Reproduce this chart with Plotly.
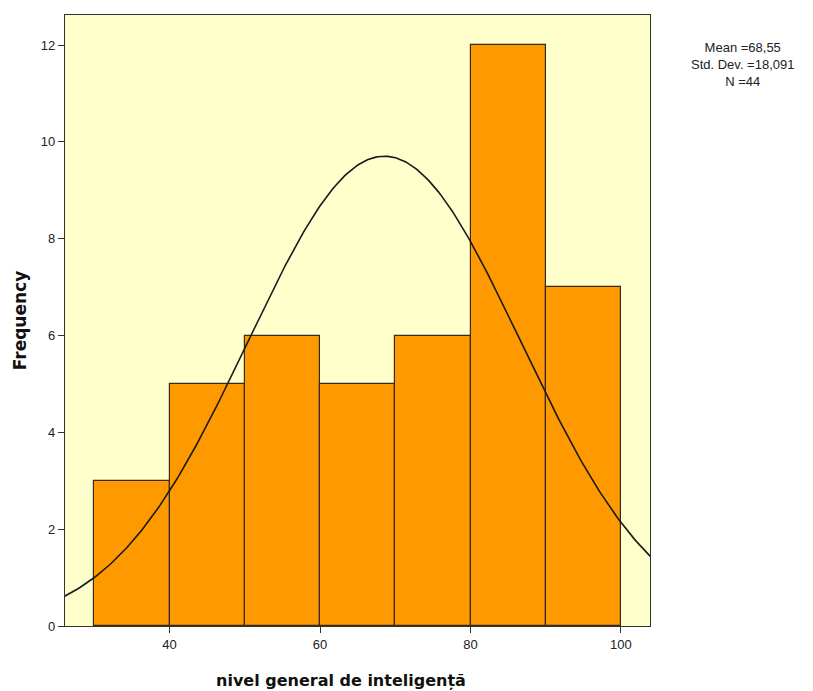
import numpy as np
import plotly.graph_objects as go

bin_starts = [30, 40, 50, 60, 70, 80, 90]
bin_width = 10
counts = [3, 5, 6, 5, 6, 12, 7]
mean_val = 68.55
std_val = 18.091
n_val = 44

fig = go.Figure()

fig.add_trace(go.Bar(
    x=[s + bin_width / 2 for s in bin_starts], y=counts, width=bin_width,
    marker=dict(color="#FF9900", line=dict(color="#3a2a1a", width=1.2)),
    hoverinfo="skip",
))

# normal curve from the reported mean / sd, scaled to counts
xs = np.linspace(26, 103.9, 300)
ys = n_val * bin_width / (std_val * np.sqrt(2 * np.pi)) * np.exp(-0.5 * ((xs - mean_val) / std_val) ** 2)
fig.add_trace(go.Scatter(x=xs, y=ys, mode="lines", line=dict(color="#1a1a1a", width=1.6), hoverinfo="skip"))

fig.add_annotation(
    xref="paper", yref="paper", x=(742 - 65) / 585, y=1 + (15 - 38) / 611,
    showarrow=False,
    text="Mean =68,55<br>Std. Dev. =18,091<br>N =44",
    xanchor="center", yanchor="top",
    font=dict(family="Liberation Sans, Arial", size=13, color="#222"),
)

title_font = dict(size=16, family="DejaVu Sans", weight="bold", color="#111")

# x title sits a bit left of the plot centre in the original
fig.add_annotation(
    xref="paper", yref="paper", x=(341 - 65) / 585, y=-54 / 611,
    showarrow=False, text="nivel general de inteligență",
    xanchor="center", yanchor="middle", font=title_font,
)

# page body has an 8px margin, so offsets are shifted accordingly
fig.update_layout(
    width=813, height=691,
    margin=dict(l=57, r=171, t=7, b=73),
    paper_bgcolor="white", plot_bgcolor="#FFFFCC",
    showlegend=False, bargap=0,
    font=dict(family="Liberation Sans, Arial", size=13, color="#222"),
    xaxis=dict(
        range=[26.1, 103.86], tickvals=[40, 60, 80, 100], ticks="outside", ticklen=6,
        tickcolor="#333", showgrid=False, zeroline=False,
        showline=True, linecolor="#333", mirror=True, linewidth=1.2,
    ),
    yaxis=dict(
        range=[0, 12.62], tickvals=[0, 2, 4, 6, 8, 10, 12], ticks="outside", ticklen=6,
        tickcolor="#333", showgrid=False, zeroline=False,
        showline=True, linecolor="#333", mirror=True, linewidth=1.2,
        title=dict(text="Frequency", font=dict(title_font, size=17), standoff=9),
    ),
)

fig.write_html("out.html")
